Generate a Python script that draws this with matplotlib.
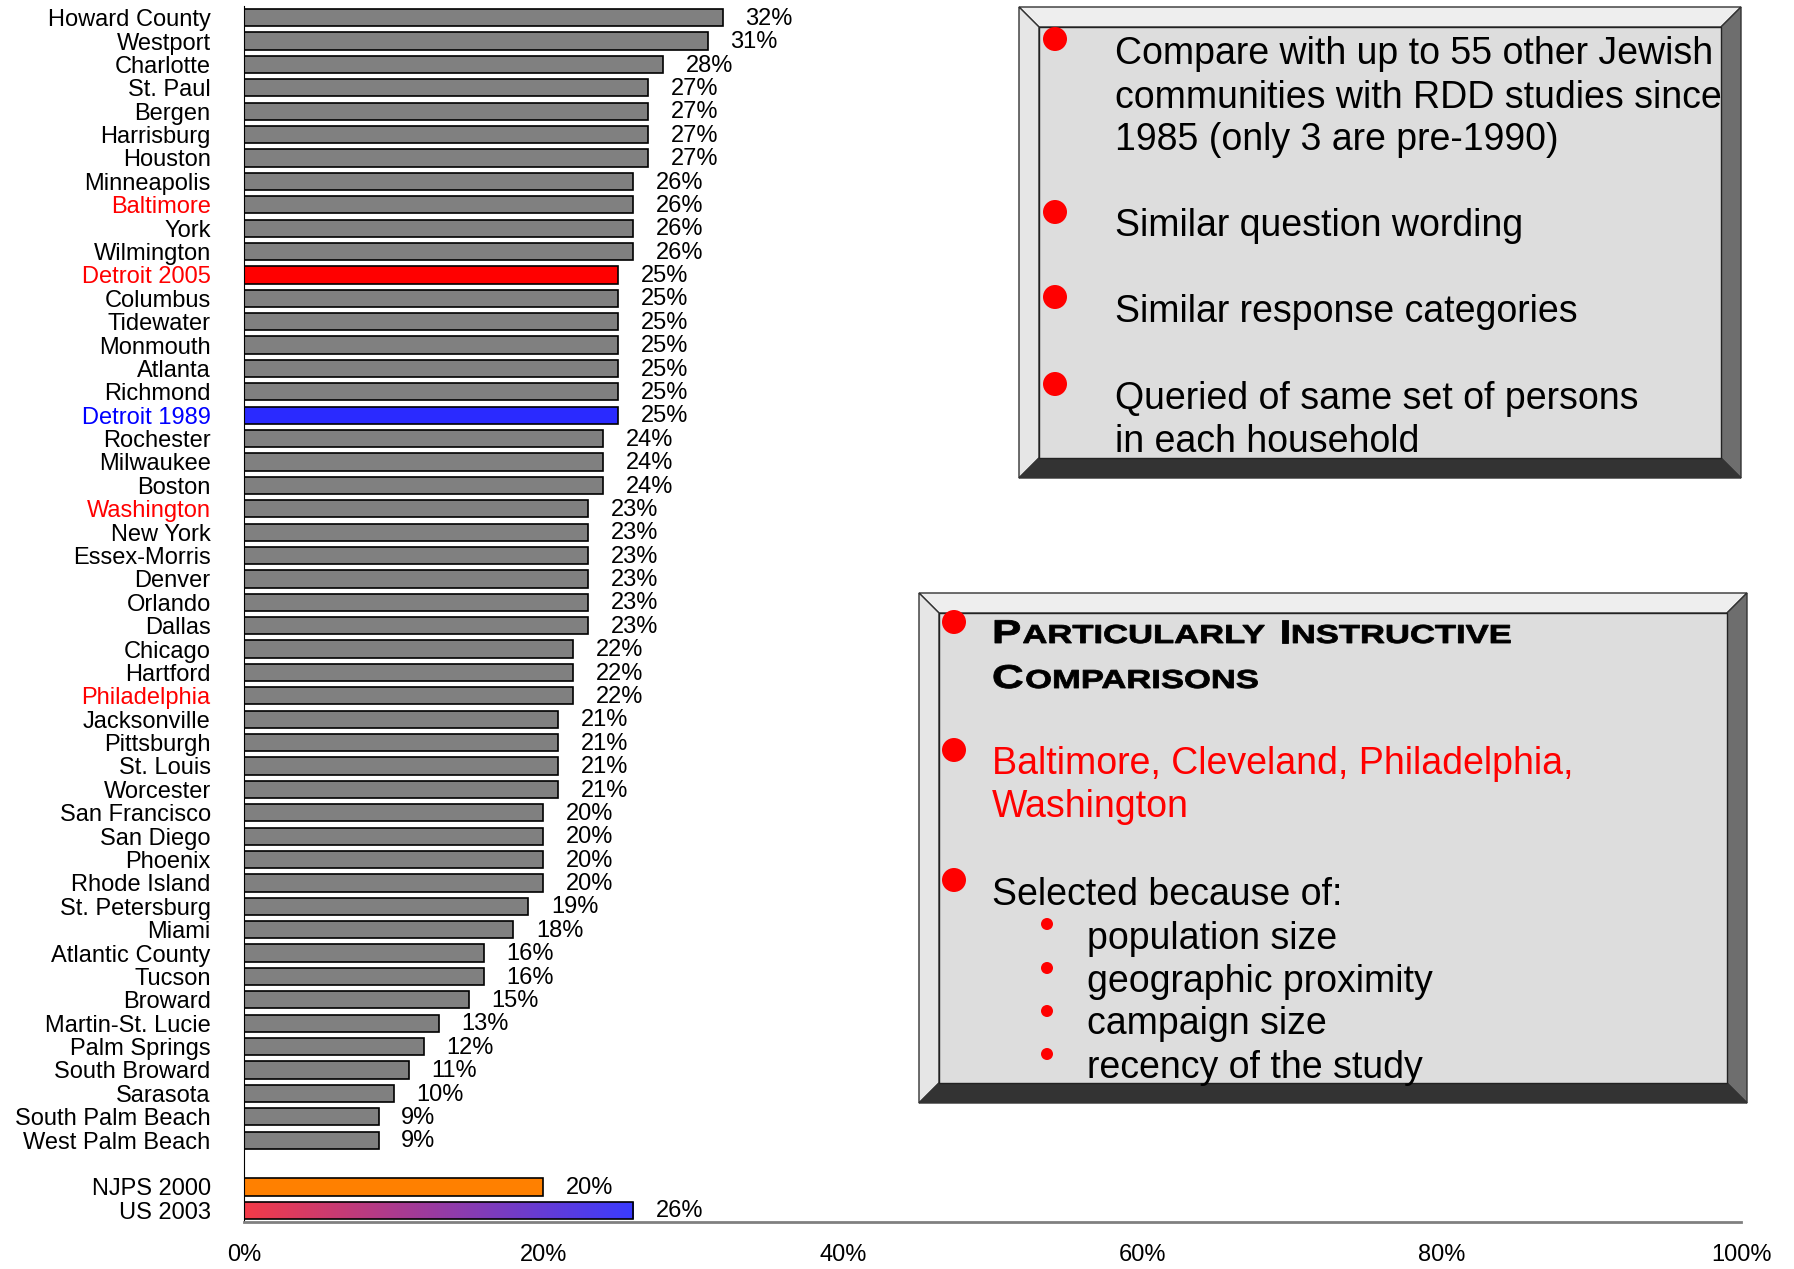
import matplotlib
matplotlib.use('Agg')
import matplotlib.pyplot as plt
import numpy as np
from matplotlib.patches import Polygon, Circle, PathPatch
from matplotlib.colors import LinearSegmentedColormap
from matplotlib.textpath import TextPath
from matplotlib.font_manager import FontProperties
from matplotlib.transforms import Affine2D

plt.rcParams['font.family'] = ['Liberation Sans', 'DejaVu Sans']

# data
communities = ['Howard County', 'Westport', 'Charlotte', 'St. Paul', 'Bergen', 'Harrisburg',
               'Houston', 'Minneapolis', 'Baltimore', 'York', 'Wilmington', 'Detroit 2005',
               'Columbus', 'Tidewater', 'Monmouth', 'Atlanta', 'Richmond', 'Detroit 1989',
               'Rochester', 'Milwaukee', 'Boston', 'Washington', 'New York', 'Essex-Morris',
               'Denver', 'Orlando', 'Dallas', 'Chicago', 'Hartford', 'Philadelphia',
               'Jacksonville', 'Pittsburgh', 'St. Louis', 'Worcester', 'San Francisco',
               'San Diego', 'Phoenix', 'Rhode Island', 'St. Petersburg', 'Miami',
               'Atlantic County', 'Tucson', 'Broward', 'Martin-St. Lucie', 'Palm Springs',
               'South Broward', 'Sarasota', 'South Palm Beach', 'West Palm Beach']
values = [32, 31, 28, 27, 27, 27, 27, 26, 26, 26, 26, 25, 25, 25, 25, 25, 25, 25,
          24, 24, 24, 23, 23, 23, 23, 23, 23, 22, 22, 22, 21, 21, 21, 21, 20, 20, 20, 20,
          19, 18, 16, 16, 15, 13, 12, 11, 10, 9, 9]
national = ['NJPS 2000', 'US 2003']
national_values = [20, 26]

red_labels = ['Baltimore', 'Detroit 2005', 'Washington', 'Philadelphia']
blue_labels = ['Detroit 1989']
bar_special = {'Detroit 2005': '#ff0000', 'Detroit 1989': '#2a2aff'}

xticks = [0, 20, 40, 60, 80, 100]

W, H = 1794, 1269
fig = plt.figure(figsize=(W / 100, H / 100), dpi=100)
ax = fig.add_axes([244 / W, 1 - 1222 / H, (1741 - 244) / W, (1222 - 6) / H])

y_comm = np.arange(len(communities))
y_nat = np.array([len(communities) + 1, len(communities) + 2])
bh = 0.74

colors = [bar_special.get(c, '#808080') for c in communities]
ax.barh(y_comm, values, height=bh, color=colors, edgecolor='black', linewidth=1.2, zorder=2)
ax.barh(y_nat[0], national_values[0], height=bh, color='#ff8000', edgecolor='black', linewidth=1.2, zorder=2)
gbar = ax.barh(y_nat[1], national_values[1], height=bh, color='none', edgecolor='black', linewidth=1.2, zorder=3)

# gradient fill for US 2003
grad_cmap = LinearSegmentedColormap.from_list('rb', ['#f43a48', '#3a3cff'])
im = ax.imshow(np.linspace(0, 1, 256).reshape(1, -1), cmap=grad_cmap, aspect='auto',
               extent=[0, national_values[1], y_nat[1] + bh / 2, y_nat[1] - bh / 2], zorder=2)
im.set_clip_path(gbar.patches[0])

for y, v in zip(list(y_comm) + list(y_nat), values + national_values):
    ax.text(v + 1.5, y + 0.05, f'{v}%', va='center', ha='left', fontsize=17)

ax.set_xlim(0, 100)
ax.set_ylim(len(communities) + 2.5, -0.5)
ax.set_yticks(list(y_comm) + list(y_nat))
ax.set_yticklabels(communities + national, fontsize=17)
for lab in ax.get_yticklabels():
    if lab.get_text() in red_labels:
        lab.set_color('red')
    elif lab.get_text() in blue_labels:
        lab.set_color('blue')
ax.set_xticks(xticks)
ax.set_xticklabels([f'{t}%' for t in xticks], fontsize=17)
ax.tick_params(axis='both', length=0)
ax.tick_params(axis='y', pad=24)
ax.tick_params(axis='x', pad=16)
ax.spines['top'].set_visible(False)
ax.spines['right'].set_visible(False)
ax.spines['left'].set_color('black')
ax.spines['bottom'].set_color('#808080')
ax.spines['bottom'].set_linewidth(2)

# overlay in pixel coordinates for the text boxes
ov = fig.add_axes([0, 0, 1, 1], zorder=5)
ov.set_xlim(0, W)
ov.set_ylim(H, 0)
ov.axis('off')
ov.patch.set_alpha(0)


def bevel_box(x0, y0, x1, y1, b):
    ov.add_patch(Polygon([(x0, y0), (x1, y0), (x1 - b, y0 + b), (x0 + b, y0 + b)],
                         closed=True, fc='#eeeeee', ec='#333333', lw=1))
    ov.add_patch(Polygon([(x0, y0), (x0 + b, y0 + b), (x0 + b, y1 - b), (x0, y1)],
                         closed=True, fc='#e6e6e6', ec='#333333', lw=1))
    ov.add_patch(Polygon([(x1, y0), (x1, y1), (x1 - b, y1 - b), (x1 - b, y0 + b)],
                         closed=True, fc='#6e6e6e', ec='#333333', lw=1))
    ov.add_patch(Polygon([(x0, y1), (x1, y1), (x1 - b, y1 - b), (x0 + b, y1 - b)],
                         closed=True, fc='#333333', ec='#333333', lw=1))
    ov.add_patch(Polygon([(x0 + b, y0 + b), (x1 - b, y0 + b), (x1 - b, y1 - b), (x0 + b, y1 - b)],
                         closed=True, fc='#dddddd', ec='#222222', lw=1))


def dot(x, y, r):
    ov.add_patch(Circle((x, y), r, fc='red', ec='none', zorder=6))


fs = 27
bevel_box(1019, 7, 1741, 478, 20)
box1_lines = [(52, 'Compare with up to 55 other Jewish'),
              (96, 'communities with RDD studies since'),
              (138, '1985 (only 3 are pre-1990)'),
              (224, 'Similar question wording'),
              (310, 'Similar response categories'),
              (397, 'Queried of same set of persons'),
              (440, 'in each household')]
for y, s in box1_lines:
    ov.text(1115, y + 12, s, fontsize=fs, va='baseline', ha='left', zorder=7)
for y in [39, 212, 297, 384]:
    dot(1055, y, 12)

bevel_box(919, 593, 1747, 1103, 20)
for y in [622, 750, 880]:
    dot(954, y, 12)
for y in [924, 968, 1011, 1054]:
    dot(1047, y, 6)

# wide bold small caps heading, drawn as stretched text paths
bold = FontProperties(family='Liberation Sans', weight='bold')


def piece(x, base, s, em, sx):
    tp = TextPath((0, 0), s, size=em, prop=bold)
    tr = Affine2D().scale(sx, -1).translate(x, base)
    ov.add_patch(PathPatch(tr.transform_path(tp), fc='black', ec='black', lw=0.6, zorder=7))
    ext = tp.get_extents()
    return x + ext.x1 * sx + 0.06 * em * sx


def small_caps(x, base, words, big=33, small=26, sx=1.33):
    for i, w in enumerate(words):
        if i > 0:
            x += 0.28 * big * sx
        x = piece(x, base, w[0], big, sx)
        x = piece(x, base, w[1:].upper(), small, sx)


small_caps(992, 643, ['Particularly', 'Instructive'])
small_caps(992, 688, ['Comparisons'])
ov.text(992, 774, 'Baltimore, Cleveland, Philadelphia,', fontsize=fs, color='red', va='baseline', zorder=7)
ov.text(992, 817, 'Washington', fontsize=fs, color='red', va='baseline', zorder=7)
ov.text(992, 905, 'Selected because of:', fontsize=fs, va='baseline', zorder=7)
for y, s in zip([937, 980, 1022, 1066],
                ['population size', 'geographic proximity', 'campaign size', 'recency of the study']):
    ov.text(1087, y + 12, s, fontsize=fs, va='baseline', zorder=7)

fig.savefig('out.png', dpi=100)
